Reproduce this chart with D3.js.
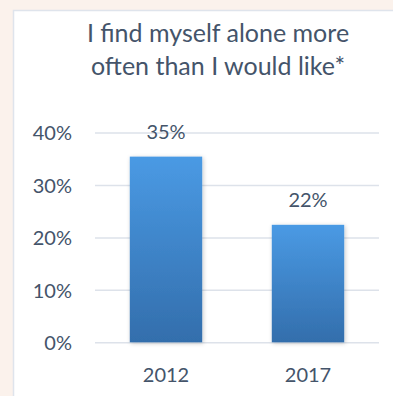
<!DOCTYPE html>
<html>
<head>
<meta charset="utf-8">
<script src="https://cdn.jsdelivr.net/npm/d3@7"></script>
<style>
  html, body { margin: 0; padding: 0; background: #fbf2ec; }
  svg { display: block; }
  text { font-family: Lato, "Open Sans", sans-serif; fill: #44546a; }
</style>
</head>
<body>
<div id="chart"></div>
<script>
// bar chart: share who find themselves alone more often than they'd like

const W = 393, H = 396;

const years = ['2012', '2017'];
const shares = [35.4, 22.4];            // percent
const valueLabels = ['35%', '22%'];
const yTicks = [0, 10, 20, 30, 40];
const titleLines = ['I find myself alone more', 'often than I would like*'];

const plot = { left: 95, right: 379, top: 132.5, bottom: 342.3 };

const svg = d3.select('#chart').append('svg')
  .attr('width', W)
  .attr('height', H);

// bar gradient + soft shadow
const defs = svg.append('defs');
const grad = defs.append('linearGradient')
  .attr('id', 'barGrad')
  .attr('x1', 0).attr('y1', 0).attr('x2', 0).attr('y2', 1);
grad.append('stop').attr('offset', '0%').attr('stop-color', '#4a9ae4');
grad.append('stop').attr('offset', '100%').attr('stop-color', '#336eac');

const shadow = defs.append('filter')
  .attr('id', 'shadow')
  .attr('x', '-20%').attr('y', '-20%')
  .attr('width', '140%').attr('height', '140%');
shadow.append('feDropShadow')
  .attr('dx', 1).attr('dy', 1)
  .attr('stdDeviation', 2)
  .attr('flood-color', '#000')
  .attr('flood-opacity', 0.22);

// white panel
svg.append('rect')
  .attr('x', 13.5).attr('y', 10.5)
  .attr('width', W).attr('height', H)
  .attr('fill', '#fff')
  .attr('stroke', '#dfe4ec')
  .attr('stroke-width', 1.5);

// title
svg.append('g')
  .selectAll('text')
  .data(titleLines)
  .enter()
  .append('text')
  .attr('x', 218)
  .attr('y', (d, i) => 41.5 + i * 33)
  .attr('text-anchor', 'middle')
  .style('font-size', '25px')
  .text(d => d);

const x = d3.scaleBand()
  .domain(years)
  .range([plot.left, plot.right])
  .paddingInner(0.49)
  .paddingOuter(0.245);

const y = d3.scaleLinear()
  .domain([0, 40])
  .range([plot.bottom, plot.top]);

// gridlines and y labels
const yAxis = d3.axisLeft(y)
  .tickValues(yTicks)
  .tickSize(-(plot.right - plot.left))
  .tickPadding(23)
  .tickFormat(d => d + '%');

const gy = svg.append('g')
  .attr('transform', `translate(${plot.left},0)`)
  .call(yAxis);
gy.select('.domain').remove();
gy.selectAll('.tick line')
  .attr('stroke', '#dde2ea')
  .attr('stroke-width', 1.5);
gy.selectAll('.tick text')
  .style('font-size', '20px')
  .attr('fill', '#44546a')
  .attr('dy', '0.36em');

// bars
svg.append('g')
  .selectAll('rect')
  .data(shares)
  .enter()
  .append('rect')
  .attr('x', (d, i) => x(years[i]))
  .attr('y', d => y(d))
  .attr('width', x.bandwidth())
  .attr('height', d => y(0) - y(d))
  .attr('fill', 'url(#barGrad)')
  .attr('filter', 'url(#shadow)');

// value labels
svg.append('g')
  .selectAll('text')
  .data(shares)
  .enter()
  .append('text')
  .attr('x', (d, i) => x(years[i]) + x.bandwidth() / 2)
  .attr('y', d => y(d) - 18)
  .attr('text-anchor', 'middle')
  .style('font-size', '20px')
  .text((d, i) => valueLabels[i]);

// category axis
const xAxis = d3.axisBottom(x).tickSize(0).tickPadding(0);
const gx = svg.append('g')
  .attr('transform', `translate(0,${plot.bottom})`)
  .call(xAxis);
gx.select('.domain').remove();
gx.selectAll('.tick text')
  .style('font-size', '20px')
  .attr('fill', '#44546a')
  .attr('dy', null)
  .attr('y', 39.5);
</script>
</body>
</html>
